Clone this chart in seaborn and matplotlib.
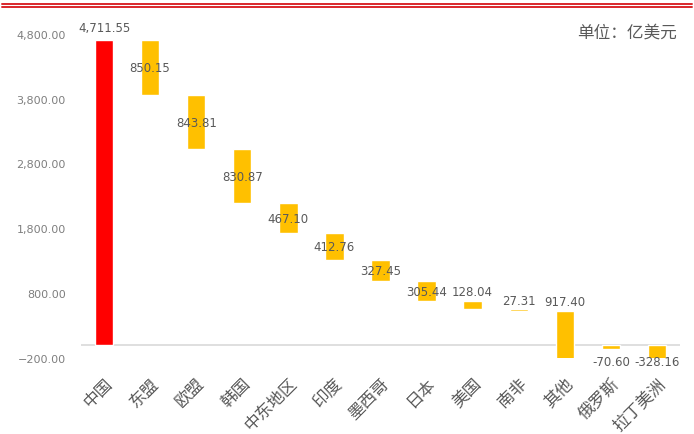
import pandas as pd
import seaborn as sns
import matplotlib.pyplot as plt
from matplotlib.lines import Line2D
from matplotlib.ticker import StrMethodFormatter

regions = ["中国", "东盟", "欧盟", "韩国", "中东地区", "印度", "墨西哥",
           "日本", "美国", "南非", "其他", "俄罗斯", "拉丁美洲"]
values = [4711.55, 850.15, 843.81, 830.87, 467.10, 412.76, 327.45,
          305.44, 128.04, 27.31, 917.40, -70.60, -328.16]
label_pos = ["top", "mid", "mid", "mid", "mid", "mid", "mid",
             "mid", "top", "top", "top", "below", "below"]
yticks = [-200, 800, 1800, 2800, 3800, 4800]

# waterfall: each region takes its share off the running total,
# negative items hang down from the zero line (as in the source chart)
bottoms, heights = [0.0], [values[0]]
level = values[0]
for v in values[1:]:
    if v > 0:
        level -= v
        bottoms.append(level)
    else:
        bottoms.append(0.0)
    heights.append(v)

df = pd.DataFrame({"region": regions, "height": heights, "bottom": bottoms})

sns.set_theme(style="white")
plt.rcParams["font.family"] = ["DejaVu Sans", "Noto Sans CJK SC"]
cjk = ["Noto Sans CJK SC", "DejaVu Sans"]

fig = plt.figure(figsize=(6.94, 4.35), dpi=100)
ax = fig.add_axes([81 / 694, 1 - 358.7 / 435, (680 - 81) / 694, (358.7 - 22) / 435])

sns.barplot(data=df, x="region", y="height", bottom=df["bottom"].to_numpy(),
            width=0.4, color="#FFC000", saturation=1, errorbar=None, ax=ax)
ax.patches[0].set_facecolor("#FF0000")

ax.set_ylim(-200, 5000)
ax.set_yticks(yticks)
ax.yaxis.set_major_formatter(StrMethodFormatter("{x:,.2f}"))
ax.axhline(0, color="#d9d9d9", lw=1.2, zorder=0)
sns.despine(ax=ax, left=True, bottom=True)
ax.set_xlabel("")
ax.set_ylabel("")

ax.tick_params(axis="y", length=0, pad=11, labelsize=8, labelcolor="#7f7f7f")
ax.tick_params(axis="x", length=0, pad=12, labelsize=12, labelcolor="#595959")
for lab in ax.get_xticklabels():
    lab.set_rotation(45)
    lab.set_ha("right")
    lab.set_rotation_mode("anchor")
    lab.set_family(cjk)
    lab.set_weight("light")

# data labels
lab_kw = dict(fontsize=8.5, color="#595959")
for i, (v, h, b, pos) in enumerate(zip(values, heights, bottoms, label_pos)):
    txt = f"{v:,.2f}"
    if pos == "top":
        ax.annotate(txt, (i, b + h), xytext=(0, 4 if i == 0 else 2),
                    textcoords="offset points", ha="center", va="bottom", **lab_kw)
    elif pos == "mid":
        ax.text(i, b + h / 2, txt, ha="center", va="center", **lab_kw)
    else:
        ax.annotate(txt, (i, -200), xytext=(0, -3), textcoords="offset points",
                    ha="center", va="center", annotation_clip=False, **lab_kw)

fig.text(677 / 694, 1 - 33 / 435, "单位：亿美元", ha="right", va="center",
         fontsize=12, color="#595959", family=cjk)

# red double rule across the top
for y in (5, 8):
    fig.add_artist(Line2D([2 / 694, 692 / 694], [1 - y / 435, 1 - y / 435],
                          transform=fig.transFigure, color="#d9262b", lw=1.4))

fig.savefig("out.png", dpi=100)
